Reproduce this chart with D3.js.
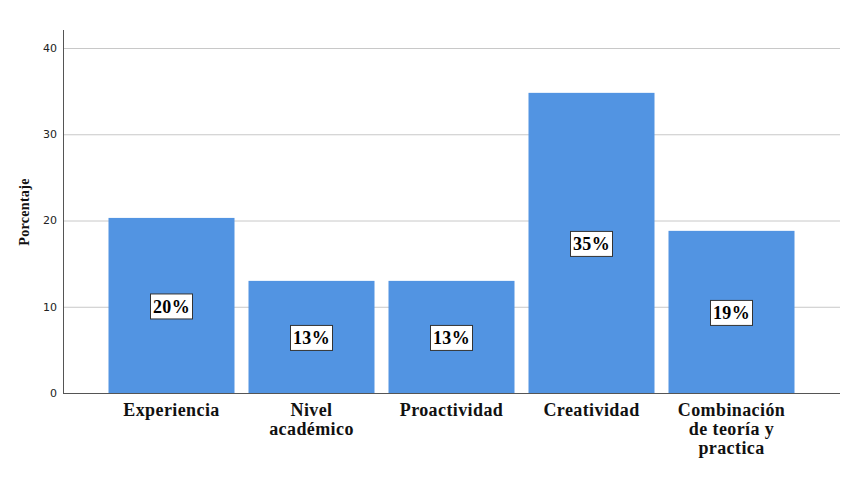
<!DOCTYPE html>
<html><head><meta charset="utf-8">
<script src="https://cdn.jsdelivr.net/npm/d3@7"></script>
<style>body{margin:0;background:#fff}svg{display:block}</style>
</head><body>
<svg id="c" width="851" height="501"></svg>
<script>
const categories = [["Experiencia"],["Nivel","académico"],["Proactividad"],["Creatividad"],["Combinación","de teoría y","practica"]];
const values = [20.3, 13.0, 13.0, 34.8, 18.8];
const labels = ["20%","13%","13%","35%","19%"];
const yTicks = [0,10,20,30,40];
const yTitle = "Porcentaje";

const svg = d3.select("#c");
const x0 = 63, x1 = 840, yTop = 30, yBase = 393;
const keys = categories.map(c=>c.join(" "));
const x = d3.scaleBand().domain(keys).range([x0,x1]).paddingInner(0.1).paddingOuter(0.325);
const y = d3.scaleLinear().domain([0,40]).range([yBase,48]);

svg.append("g").selectAll("line").data(yTicks.filter(t=>t>0)).join("line")
  .attr("x1",x0).attr("x2",x1).attr("y1",d=>y(d)+0.5).attr("y2",d=>y(d)+0.5)
  .attr("stroke","#c8c8c8").attr("stroke-width",1);

svg.append("g").selectAll("rect").data(values).join("rect")
  .attr("x",(d,i)=>x(keys[i])).attr("width",x.bandwidth())
  .attr("y",d=>y(d)).attr("height",d=>yBase-y(d))
  .attr("fill","#5294e2");

svg.append("line").attr("x1",x0+0.5).attr("x2",x0+0.5).attr("y1",yTop).attr("y2",yBase).attr("stroke","#555");
svg.append("line").attr("x1",x0).attr("x2",x1).attr("y1",yBase+0.5).attr("y2",yBase+0.5).attr("stroke","#555");

svg.append("g").selectAll("text").data(yTicks).join("text")
  .attr("x",57).attr("y",d=>y(d)).attr("dy","0.35em").attr("text-anchor","end")
  .attr("font-family","DejaVu Sans, sans-serif").attr("font-size",11).attr("fill","#222")
  .text(d=>d);

svg.append("text").attr("transform","translate(29,212) rotate(-90)")
  .attr("text-anchor","middle").attr("font-family","Liberation Serif, serif")
  .attr("font-weight","bold").attr("font-size",14).attr("letter-spacing",0.3).attr("fill","#111").text(yTitle);

const lg = svg.append("g").selectAll("g").data(values).join("g")
  .attr("transform",(d,i)=>`translate(${x(keys[i])+x.bandwidth()/2},${y(d/2)+1})`);
lg.append("rect").attr("x",-21).attr("y",-12.5).attr("width",42).attr("height",25)
  .attr("fill","#fff").attr("stroke","#333").attr("stroke-width",1);
lg.append("text").attr("text-anchor","middle").attr("dy","0.35em")
  .attr("font-family","Liberation Serif, serif").attr("font-weight","bold").attr("font-size",18)
  .attr("letter-spacing",0.4).attr("fill","#000").text((d,i)=>labels[i]);

const cg = svg.append("g").selectAll("text").data(categories).join("text")
  .attr("text-anchor","middle").attr("font-family","Liberation Serif, serif")
  .attr("font-weight","bold").attr("font-size",18).attr("letter-spacing",0.4).attr("fill","#111")
  .attr("transform",(d,i)=>`translate(${x(keys[i])+x.bandwidth()/2},416)`);
cg.selectAll("tspan").data(d=>d).join("tspan").attr("x",0).attr("dy",(d,j)=>j===0?0:19).text(d=>d);
</script>
</body></html>
